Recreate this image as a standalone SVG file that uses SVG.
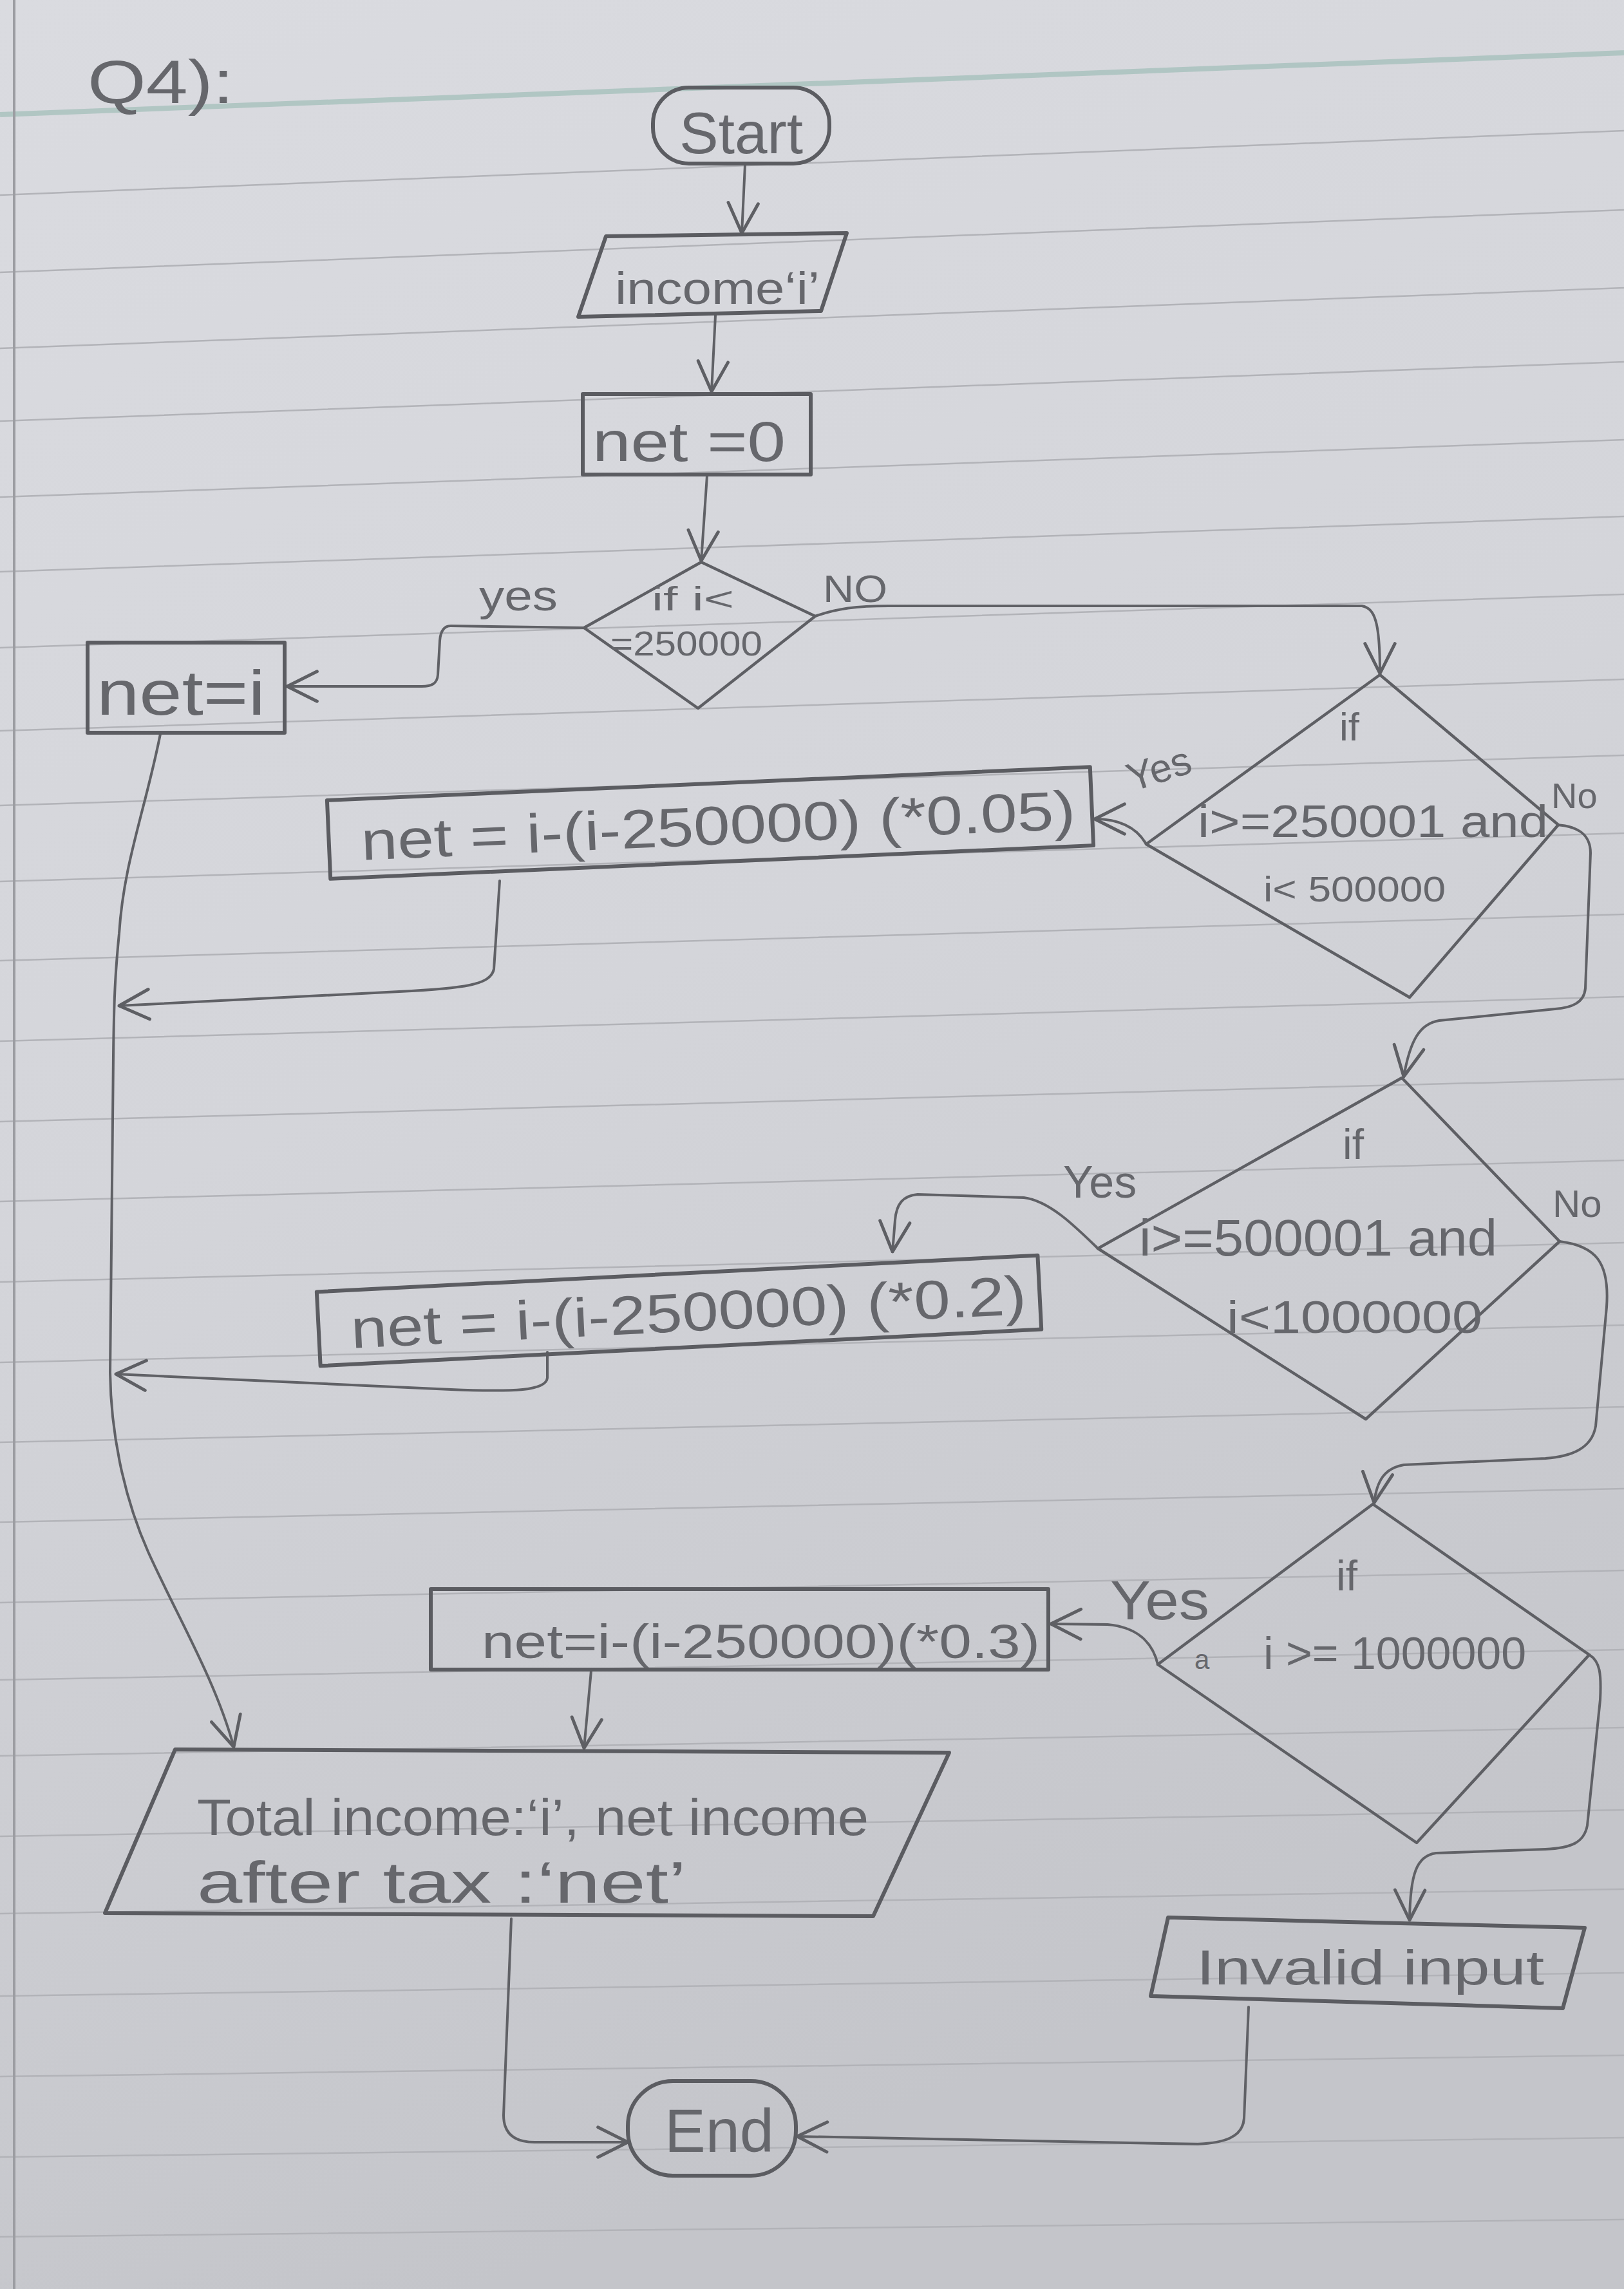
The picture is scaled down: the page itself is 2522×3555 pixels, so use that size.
<svg xmlns="http://www.w3.org/2000/svg" width="2522" height="3555" viewBox="0 0 2522 3555">
<defs>
  <linearGradient id="paper" x1="0" y1="0" x2="0.3" y2="1">
    <stop offset="0" stop-color="#dadbe0"/>
    <stop offset="0.5" stop-color="#d4d5da"/>
    <stop offset="1" stop-color="#c4c5ca"/>
  </linearGradient>
  <marker id="arr" viewBox="0 0 20 20" refX="18" refY="10" markerWidth="58" markerHeight="58" markerUnits="userSpaceOnUse" orient="auto">
    <path d="M2,2 L18,10 L2,18" fill="none" stroke="#5e5f64" stroke-width="1.7" stroke-linecap="round" stroke-linejoin="round"/>
  </marker>
  <style>
    .node { fill: none; stroke: #5b5c61; stroke-width: 6; stroke-linejoin: round; }
    .dec { fill: none; stroke: #5e5f64; stroke-width: 4.5; stroke-linejoin: round; }
    .conn { fill: none; stroke: #606166; stroke-width: 4; stroke-linecap: round; stroke-linejoin: round; marker-end: url(#arr); }
    .t { font-family: "Liberation Sans", "DejaVu Sans", Arial, sans-serif; fill: #66676c; }
    .rule { fill: none; stroke: #b2b3b8; stroke-width: 2.5; }
  </style>
</defs>

<!-- paper -->
<rect x="0" y="0" width="2522" height="3555" fill="url(#paper)"/>
<g id="ruled-lines">
  <path class="rule" d="M0,303 L2522,203 M0,423 L2522,326 M0,541 L2522,447 M0,654 L2522,562 M0,772 L2522,683 M0,888 L2522,802 M0,1006 L2522,923 M0,1135 L2522,1055 M0,1251 L2522,1173 M0,1369 L2522,1294 M0,1492 L2522,1420 M0,1617 L2522,1548 M0,1742 L2522,1676 M0,1866 L2522,1802 M0,1991 L2522,1930 M0,2116 L2522,2058 M0,2240 L2522,2185 M0,2364 L2522,2312 M0,2489 L2522,2439 M0,2609 L2522,2562 M0,2727 L2522,2683 M0,2852 L2522,2811 M0,2972 L2522,2934 M0,3100 L2522,3064 M0,3225 L2522,3192 M0,3350 L2522,3320 M0,3474 L2522,3447"/>
  <path d="M0,178 L2522,82" fill="none" stroke="#a3bfb9" stroke-width="8" opacity="0.75"/>
  <path d="M22,0 L22,3555" fill="none" stroke="#9c9da2" stroke-width="4"/>
</g>

<text class="t" x="136" y="160" font-size="95" textLength="227" lengthAdjust="spacingAndGlyphs">Q4):</text>

<g id="connectors">
  <path class="conn" d="M1157,256 L1152,362"/>
  <path class="conn" d="M1111,490 L1105,608"/>
  <path class="conn" d="M1098,739 L1089,871"/>
  <!-- d1 yes -> net=i -->
  <path class="conn" d="M907,975 L700,972 C688,972 684,982 683,995 L680,1048 C679,1062 670,1066 655,1066 L446,1066"/>
  <!-- net=i down the left to output -->
  <path class="conn" d="M249,1140 C225,1260 192,1340 185,1450 C178,1520 177,1560 176,1640 L171,2132 C172,2220 190,2320 230,2410 C275,2510 335,2610 363,2713"/>
  <!-- d1 no -> d2 -->
  <path class="conn" d="M1266,957 C1300,945 1330,941 1380,941 L2115,941 C2135,945 2143,965 2143,1046"/>
  <!-- d2 yes -> box2 -->
  <path class="conn" d="M1780,1311 C1768,1290 1745,1272 1700,1272"/>
  <!-- box2 -> left line -->
  <path class="conn" d="M776,1368 L767,1505 C762,1530 720,1535 620,1540 L185,1562"/>
  <!-- d2 no -> d3 -->
  <path class="conn" d="M2418,1281 C2445,1283 2470,1292 2470,1325 L2462,1535 C2460,1558 2440,1565 2415,1567 L2235,1585 C2205,1590 2190,1615 2180,1672"/>
  <!-- d3 yes -> box3 -->
  <path class="conn" d="M1705,1939 C1670,1905 1630,1865 1590,1860 L1425,1855 C1402,1857 1392,1870 1390,1895 L1386,1944"/>
  <!-- box3 -> left line -->
  <path class="conn" d="M850,2100 L850,2140 C848,2160 800,2162 700,2158 L180,2134"/>
  <!-- d3 no -> d4 -->
  <path class="conn" d="M2422,1928 C2478,1935 2500,1960 2495,2030 L2478,2215 C2472,2250 2440,2262 2400,2265 L2180,2275 C2150,2280 2138,2300 2134,2334"/>
  <!-- d4 yes -> box4 -->
  <path class="conn" d="M1798,2585 C1790,2550 1765,2527 1720,2523 L1632,2522"/>
  <!-- box4 -> output -->
  <path class="conn" d="M918,2595 L907,2715"/>
  <!-- d4 no -> invalid -->
  <path class="conn" d="M2468,2570 C2485,2580 2487,2600 2485,2640 L2465,2835 C2460,2862 2440,2870 2400,2872 L2230,2878 C2200,2882 2190,2910 2189,2982"/>
  <!-- output -> End -->
  <path class="conn" d="M794,2980 L782,3285 C782,3315 800,3327 830,3327 L975,3327"/>
  <!-- invalid -> End -->
  <path class="conn" d="M1939,3117 L1932,3290 C1930,3320 1900,3328 1860,3330 L1238,3318"/>
</g>

<g id="start">
  <rect class="node" x="1014" y="136" width="274" height="118" rx="56"/>
  <text class="t" x="1055" y="238" font-size="90" textLength="192" lengthAdjust="spacingAndGlyphs">Start</text>
</g>

<g id="input-income">
  <polygon class="node" points="941,367 1315,362 1275,483 898,492"/>
  <text class="t" x="955" y="472" font-size="70" textLength="318" lengthAdjust="spacingAndGlyphs">income‘i’</text>
</g>

<g id="net-zero">
  <rect class="node" x="905" y="612" width="354" height="125"/>
  <text class="t" x="920" y="716" font-size="88" textLength="300" lengthAdjust="spacingAndGlyphs">net =0</text>
</g>

<g id="decision-1">
  <polygon class="dec" points="1089,873 1266,957 1084,1100 907,975"/>
  <text class="t" x="1012" y="948" font-size="52" textLength="128" lengthAdjust="spacingAndGlyphs">if i&lt;</text>
  <text class="t" x="948" y="1018" font-size="54" textLength="236" lengthAdjust="spacingAndGlyphs">=250000</text>
  <text class="t" x="744" y="948" font-size="66" textLength="122" lengthAdjust="spacingAndGlyphs">yes</text>
  <text class="t" x="1278" y="935" font-size="60" textLength="100" lengthAdjust="spacingAndGlyphs">NO</text>
</g>

<g id="net-eq-i">
  <rect class="node" x="136" y="998" width="306" height="140"/>
  <text class="t" x="150" y="1110" font-size="98" textLength="262" lengthAdjust="spacingAndGlyphs">net=i</text>
</g>

<g id="decision-2">
  <polygon class="dec" points="2143,1048 2420,1281 2189,1549 1780,1311"/>
  <text class="t" x="2080" y="1150" font-size="62">if</text>
  <text class="t" x="1860" y="1300" font-size="70" textLength="544" lengthAdjust="spacingAndGlyphs">i&gt;=250001 and</text>
  <text class="t" x="1962" y="1400" font-size="55" textLength="283" lengthAdjust="spacingAndGlyphs">i&lt; 500000</text>
  <text class="t" x="1758" y="1230" font-size="62" transform="rotate(-18 1758 1230)">Yes</text>
  <text class="t" x="2409" y="1255" font-size="56">No</text>
</g>

<g id="calc-005" transform="rotate(-2.5 1103 1278)">
  <rect class="node" x="510" y="1217" width="1186" height="122"/>
  <text class="t" x="560" y="1312" font-size="85" textLength="1110" lengthAdjust="spacingAndGlyphs">net = i-(i-250000)  (*0.05)</text>
</g>

<g id="decision-3">
  <polygon class="dec" points="2177,1674 2422,1928 2121,2204 1705,1939"/>
  <text class="t" x="2085" y="1800" font-size="66">if</text>
  <text class="t" x="1769" y="1950" font-size="80" textLength="556" lengthAdjust="spacingAndGlyphs">i&gt;=500001 and</text>
  <text class="t" x="1905" y="2070" font-size="70" textLength="397" lengthAdjust="spacingAndGlyphs">i&lt;1000000</text>
  <text class="t" x="1651" y="1860" font-size="70">Yes</text>
  <text class="t" x="2411" y="1890" font-size="60">No</text>
</g>

<g id="calc-02" transform="rotate(-2.9 1054 2035)">
  <rect class="node" x="494" y="1978" width="1121" height="115"/>
  <text class="t" x="544" y="2068" font-size="85" textLength="1050" lengthAdjust="spacingAndGlyphs">net = i-(i-250000) (*0.2)</text>
</g>

<g id="decision-4">
  <polygon class="dec" points="2132,2336 2468,2570 2200,2862 1798,2585"/>
  <text class="t" x="2075" y="2470" font-size="66">if</text>
  <text class="t" x="1855" y="2592" font-size="42">a</text>
  <text class="t" x="1962" y="2592" font-size="70" textLength="408" lengthAdjust="spacingAndGlyphs">i &gt;= 1000000</text>
  <text class="t" x="1724" y="2515" font-size="85" textLength="154" lengthAdjust="spacingAndGlyphs">Yes</text>
</g>

<g id="calc-03">
  <rect class="node" x="669" y="2468" width="959" height="125"/>
  <text class="t" x="748" y="2575" font-size="75" textLength="867" lengthAdjust="spacingAndGlyphs">net=i-(i-250000)(*0.3)</text>
</g>

<g id="output">
  <polygon class="node" points="272,2717 1474,2722 1356,2976 163,2971"/>
  <text class="t" x="306" y="2850" font-size="80" textLength="1043" lengthAdjust="spacingAndGlyphs">Total income:‘i’, net income</text>
  <text class="t" x="306" y="2955" font-size="90" textLength="760" lengthAdjust="spacingAndGlyphs">after tax :‘net’</text>
</g>

<g id="invalid">
  <polygon class="node" points="1814,2978 2461,2994 2427,3119 1787,3100"/>
  <text class="t" x="1858" y="3082" font-size="76" textLength="540" lengthAdjust="spacingAndGlyphs">Invalid input</text>
</g>

<g id="end">
  <rect class="node" x="975" y="3232" width="261" height="147" rx="70"/>
  <text class="t" x="1032" y="3342" font-size="95" textLength="170" lengthAdjust="spacingAndGlyphs">End</text>
</g>
</svg>
